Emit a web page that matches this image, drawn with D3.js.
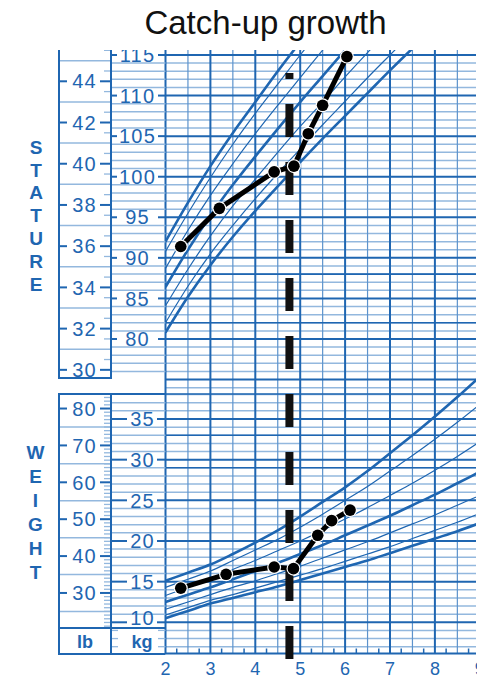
<!DOCTYPE html>
<html>
<head>
<meta charset="utf-8">
<script src="https://cdn.jsdelivr.net/npm/d3@7/dist/d3.min.js"></script>
<style>
  body { margin: 0; background: #fff; }
  svg { display: block; }
</style>
</head>
<body>
<svg id="chart" width="485" height="679"></svg>
<script>
// ---- Reference percentile curves (boys, 2 to 9 years) ----
const ages = [2, 2.5, 3, 3.5, 4, 4.5, 5, 5.5, 6, 6.5, 7, 7.5, 8, 8.5, 9];

// Stature-for-age, cm
const statureP5  = [80.8, 85.2, 89.1, 92.6, 95.8, 98.8, 101.8, 104.7, 107.5, 110.3, 113.1, 115.8, 118.3, 121.0, 123.5];
const statureP10 = [82.0, 86.5, 90.5, 94.0, 97.3, 100.4, 103.4, 106.4, 109.3, 112.2, 115.0, 117.8, 120.4, 123.1, 125.7];
const statureP25 = [84.1, 88.6, 92.7, 96.4, 99.7, 103.0, 106.2, 109.2, 112.3, 115.3, 118.2, 121.1, 123.9, 126.7, 129.4];
const statureP50 = [86.4, 91.0, 95.2, 99.0, 102.5, 105.9, 109.2, 112.4, 115.6, 118.7, 121.8, 124.8, 127.7, 130.6, 133.4];
const statureP75 = [88.7, 93.4, 97.7, 101.6, 105.3, 108.8, 112.2, 115.6, 118.9, 122.1, 125.4, 128.5, 131.5, 134.5, 137.4];
const statureP90 = [90.8, 95.5, 99.9, 104.0, 107.8, 111.4, 115.0, 118.4, 121.9, 125.2, 128.6, 131.8, 135.0, 138.1, 141.1];
const statureP95 = [92.0, 96.8, 101.3, 105.4, 109.2, 113.0, 116.6, 120.1, 123.7, 127.1, 130.5, 133.8, 137.1, 140.2, 143.3];

// Weight-for-age, kg
const weightP5  = [10.5, 11.4, 12.3, 13.0, 13.7, 14.4, 15.2, 16.0, 16.8, 17.6, 18.5, 19.4, 20.3, 21.2, 22.2];
const weightP10 = [10.9, 11.8, 12.7, 13.4, 14.2, 15.0, 15.8, 16.6, 17.5, 18.4, 19.3, 20.3, 21.3, 22.3, 23.4];
const weightP25 = [11.6, 12.5, 13.4, 14.3, 15.1, 16.0, 16.9, 17.9, 18.9, 19.9, 21.0, 22.1, 23.2, 24.4, 25.6];
const weightP50 = [12.5, 13.4, 14.3, 15.3, 16.3, 17.3, 18.4, 19.5, 20.7, 21.9, 23.1, 24.4, 25.7, 27.1, 28.5];
const weightP75 = [13.3, 14.3, 15.3, 16.5, 17.6, 18.8, 20.0, 21.3, 22.7, 24.1, 25.6, 27.1, 28.7, 30.4, 32.2];
const weightP90 = [14.3, 15.3, 16.3, 17.6, 18.9, 20.2, 21.7, 23.3, 25.0, 26.7, 28.6, 30.5, 32.5, 34.6, 36.8];
const weightP95 = [15.1, 16.1, 17.1, 18.4, 19.8, 21.3, 23.0, 24.8, 26.6, 28.6, 30.8, 33.0, 35.3, 37.7, 40.2];

// ---- The child's measurements ----
const childStatureAge = [2.34, 3.20, 4.42, 4.86, 5.18, 5.50, 6.04];
const childStature    = [91.4, 96.1, 100.6, 101.3, 105.3, 108.8, 114.8];
const childWeightAge  = [2.34, 3.35, 4.42, 4.85, 5.39, 5.70, 6.11];
const childWeight     = [14.2, 15.9, 16.8, 16.6, 20.7, 22.5, 23.8];
const treatmentAge = 4.76;

// ---- Tick labels ----
const ageTicks  = [2, 3, 4, 5, 6, 7, 8, 9];
const cmTicks   = [80, 85, 90, 95, 100, 105, 110, 115];
const inchTicks = [30, 32, 34, 36, 38, 40, 42, 44];
const kgTicks   = [10, 15, 20, 25, 30, 35];
const lbTicks   = [30, 40, 50, 60, 70, 80];
const statureLetters = ["S", "T", "A", "T", "U", "R", "E"];
const weightLetters  = ["W", "E", "I", "G", "H", "T"];

// ---- Layout ----
const BLUE = "#1f66b1";
const LIGHT = "#93b8de";
const MID = "#5d93cc";
const FONT = "'Liberation Sans', Arial, Helvetica, sans-serif";

const X0 = 165.5, X1 = 476;          // plotting area, horizontal extent
const S_TOP = 50, S_BOT = 393;        // stature grid vertical extent
const W_TOP = 394, W_BOT = 653.5;     // weight grid vertical extent
const COL_L = 59, COL_M = 111;        // imperial / metric scale columns
const S_COL_BOT = 378, W_ROW = 628;

const x  = d3.scaleLinear().domain([2, 9]).range([165.5, 479.8]);
const yS = d3.scaleLinear().domain([80, 115]).range([339, 55]);
const yW = d3.scaleLinear().domain([10, 35]).range([622.3, 419]);
const yIn = v => yS(v * 2.54);
const yLb = v => yW(v / 2.20462);

const svg = d3.select("#chart");

const defs = svg.append("defs");
defs.append("clipPath").attr("id", "clipTop")
  .append("rect").attr("x", 0).attr("y", S_TOP).attr("width", 485).attr("height", 679 - S_TOP);
defs.append("clipPath").attr("id", "clipStature")
  .append("rect").attr("x", X0).attr("y", S_TOP).attr("width", X1 - X0).attr("height", S_BOT - S_TOP);
defs.append("clipPath").attr("id", "clipWeight")
  .append("rect").attr("x", X0).attr("y", 376).attr("width", X1 - X0).attr("height", W_BOT - 376);
defs.append("clipPath").attr("id", "clipRight")
  .append("rect").attr("x", 0).attr("y", 0).attr("width", 477).attr("height", 679);

const g = svg.append("g").attr("clip-path", "url(#clipTop)");

function hline(sel, x1, x2, y, color, w) {
  sel.append("line").attr("x1", x1).attr("x2", x2).attr("y1", y).attr("y2", y)
    .attr("stroke", color).attr("stroke-width", w);
}
function vline(sel, xx, y1, y2, color, w) {
  sel.append("line").attr("x1", xx).attr("x2", xx).attr("y1", y1).attr("y2", y2)
    .attr("stroke", color).attr("stroke-width", w);
}

// ---- Plot grid ----
const grid = g.append("g");
// stature rows every cm, heavier every 5 cm
d3.range(73, 117).forEach(cm => {
  const y = yS(cm);
  if (y < S_TOP || y > S_BOT) return;
  if (cm % 5 !== 0) hline(grid, X0, X1, y, LIGHT, 1.5);
});
// weight rows every kg, heavier every 5 kg
d3.range(6, 39).forEach(kg => {
  const y = yW(kg);
  if (y < W_TOP || y > W_BOT) return;
  if (kg % 5 !== 0) hline(grid, X0, X1, y, LIGHT, 1.5);
});
// half-year columns
d3.range(2.5, 9, 1).forEach(a => { if (x(a) < X1) vline(grid, x(a), S_TOP, W_BOT, MID, 1.2); });
// heavy rows
d3.range(75, 116, 5).forEach(cm => hline(grid, X0, X1, yS(cm), BLUE, 2));
[82, 88].forEach(cm => hline(grid, X0, X1, yS(cm), BLUE, 1.6));
d3.range(10, 36, 5).forEach(kg => hline(grid, X0, X1, yW(kg), BLUE, 2));
[29, 33].forEach(kg => hline(grid, X0, X1, yW(kg), BLUE, 1.6));
hline(grid, X0, X1, W_TOP, BLUE, 1.5);
// whole-year columns
d3.range(3, 10).forEach(a => { if (x(a) < X1) vline(grid, x(a), S_TOP, W_BOT, BLUE, 2); });
vline(grid, X0, S_TOP, W_BOT + 0.5, BLUE, 2);
hline(grid, X0, X1, W_BOT, BLUE, 2);
// quarter-year ticks on the base line
d3.range(2.25, 9, 0.5).forEach(a => { if (x(a) < X1) vline(grid, x(a), W_BOT - 5, W_BOT, BLUE, 1.5); });

// ---- Percentile curves ----
const line = d3.line().x(d => x(d[0])).curve(d3.curveMonotoneX);
function drawCurves(series, yScale, clip) {
  const cg = svg.append("g").attr("clip-path", `url(#${clip})`);
  series.forEach(s => {
    cg.append("path")
      .attr("d", line.y(d => yScale(d[1]))(ages.map((a, i) => [a, s.values[i]])))
      .attr("fill", "none").attr("stroke", BLUE)
      .attr("stroke-width", s.heavy ? 2.6 : 1.2);
  });
}
drawCurves([
  { values: statureP5, heavy: true }, { values: statureP10 }, { values: statureP25 },
  { values: statureP50, heavy: true }, { values: statureP75 }, { values: statureP90 },
  { values: statureP95, heavy: true }
], yS, "clipStature");
drawCurves([
  { values: weightP5, heavy: true }, { values: weightP10 }, { values: weightP25 },
  { values: weightP50, heavy: true }, { values: weightP75 }, { values: weightP90 },
  { values: weightP95, heavy: true }
], yW, "clipWeight");

// ---- Scale columns ----
const cols = g.append("g");
function label(sel, xx, y, text, size, weight) {
  return sel.append("text").attr("x", xx).attr("y", y).attr("dy", "0.36em")
    .attr("text-anchor", "middle").attr("fill", BLUE)
    .attr("font-family", FONT).attr("font-size", size)
    .attr("font-weight", weight || "normal").text(text);
}

// Stature: inches (left) and centimetres (right)
d3.range(29, 46, 2).forEach(v => {
  const y = yIn(v); if (y < S_COL_BOT) hline(cols, COL_L, COL_M, y, LIGHT, 1.5);
});
d3.range(29.5, 46, 1).forEach(v => {
  const y = yIn(v); if (y < S_COL_BOT) hline(cols, 104, COL_M, y, LIGHT, 1.3);
});
d3.range(74, 117).forEach(cm => {
  const y = yS(cm); if (y < S_COL_BOT && cm % 5 !== 0) hline(cols, COL_M, X0, y, LIGHT, 1.5);
});
inchTicks.forEach(v => {
  const y = yIn(v);
  hline(cols, COL_L, COL_L + 8, y, BLUE, 2);
  hline(cols, 100, COL_M, y, BLUE, 2);
  label(cols, 84.5, y, v, 20).attr("letter-spacing", 1.2);
});
cmTicks.forEach(v => {
  const y = yS(v);
  hline(cols, COL_M, COL_M + 6, y, BLUE, 2);
  hline(cols, 158, X0, y, BLUE, 2);
  label(cols, 137.5, y, v, 20).attr("letter-spacing", 1.2);
});
vline(cols, COL_L, S_TOP, S_COL_BOT, BLUE, 2);
vline(cols, COL_M, S_TOP, S_COL_BOT, BLUE, 2);
hline(cols, COL_L - 1, COL_M + 1, S_COL_BOT, BLUE, 2);

// Weight: pounds (left) and kilograms (right)
d3.range(25, 90, 10).forEach(v => {
  const y = yLb(v); if (y > W_TOP && y < W_ROW) hline(cols, COL_L, COL_M, y, LIGHT, 1.5);
});
d3.range(20, 86).forEach(v => {
  const y = yLb(v); if (y > W_TOP + 2 && y < W_BOT - 2 && v % 10 !== 0) hline(cols, 104, COL_M, y, LIGHT, 1.3);
});
d3.range(6, 39).forEach(kg => {
  const y = yW(kg);
  if (y > W_TOP + 2 && y < W_ROW - 2 && kg % 5 !== 0) hline(cols, COL_M, X0, y, LIGHT, 1.5);
  if (y > W_ROW + 2 && y < W_BOT - 2) { hline(cols, COL_M, COL_M + 7, y, LIGHT, 1.3); hline(cols, 158, X0, y, LIGHT, 1.3); }
});
lbTicks.forEach(v => {
  const y = yLb(v);
  hline(cols, COL_L, COL_L + 8, y, BLUE, 2);
  hline(cols, 100, COL_M, y, BLUE, 2);
  label(cols, 84.5, y, v, 20).attr("letter-spacing", 1.2);
});
kgTicks.forEach(v => {
  const y = yW(v);
  hline(cols, COL_M, COL_M + 16, y, BLUE, 2);
  hline(cols, 157, X0, y, BLUE, 2);
  // the lowest label sits just above the unit row
  label(cols, 142.5, Math.min(y, W_ROW - 10.5), v, 20).attr("letter-spacing", 1.2);
});
vline(cols, COL_L, W_TOP, W_BOT + 1, BLUE, 2);
vline(cols, COL_M, W_TOP, W_BOT + 1, BLUE, 2);
hline(cols, COL_L - 1, X0, W_TOP, BLUE, 2);
hline(cols, COL_L - 1, X0, W_ROW, BLUE, 2);
hline(cols, COL_L - 1, X0, W_BOT + 0.5, BLUE, 2);
label(cols, 85, 642, "lb", 18, "bold");
label(cols, 142, 642, "kg", 18, "bold");

// Vertical section names
statureLetters.forEach((c, i) => label(svg, 36, 147 + i * 22.8, c, 19, "bold"));
weightLetters.forEach((c, i) => label(svg, 35.5, 452 + i * 24, c, 19, "bold"));

// Age labels
const axisLabels = svg.append("g").attr("clip-path", "url(#clipRight)");
ageTicks.forEach(a => {
  axisLabels.append("text").attr("x", x(a)).attr("y", 675)
    .attr("text-anchor", "middle").attr("fill", BLUE)
    .attr("font-family", FONT).attr("font-size", 18).text(a);
});

// ---- Start of treatment ----
svg.append("line")
  .attr("x1", x(treatmentAge)).attr("x2", x(treatmentAge))
  .attr("y1", 73).attr("y2", 663)
  .attr("stroke", "#111").attr("stroke-width", 8)
  .attr("stroke-dasharray", "33 25").attr("stroke-dashoffset", 27);

// ---- The child's growth ----
function drawChild(agesArr, vals, yScale) {
  const pts = agesArr.map((a, i) => [x(a), yScale(vals[i])]);
  svg.append("path").attr("d", d3.line()(pts))
    .attr("fill", "none").attr("stroke", "#000").attr("stroke-width", 5)
    .attr("stroke-linejoin", "round").attr("stroke-linecap", "round");
  const dots = svg.append("g");
  dots.selectAll("circle.halo").data(pts).join("circle").attr("class", "halo")
    .attr("cx", d => d[0]).attr("cy", d => d[1]).attr("r", 7).attr("fill", "#fff");
  dots.selectAll("circle.dot").data(pts).join("circle").attr("class", "dot")
    .attr("cx", d => d[0]).attr("cy", d => d[1]).attr("r", 5.8).attr("fill", "#000");
}
drawChild(childStatureAge, childStature, yS);
drawChild(childWeightAge, childWeight, yW);

// ---- Title ----
svg.append("text").attr("x", 265.5).attr("y", 34)
  .attr("text-anchor", "middle").attr("fill", "#111")
  .attr("font-family", FONT).attr("font-size", 33).text("Catch-up growth");
</script>
</body>
</html>
